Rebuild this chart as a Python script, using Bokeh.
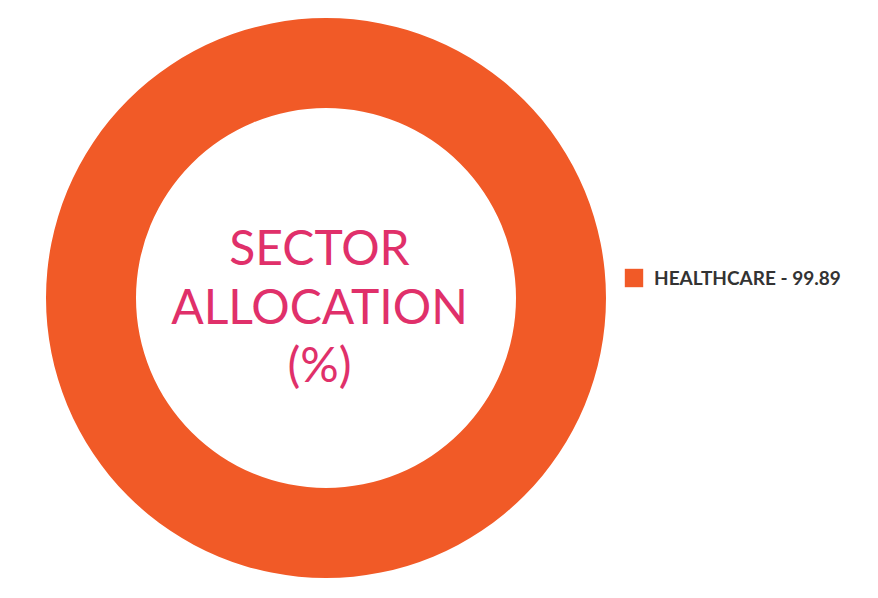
import numpy as np
from bokeh.plotting import figure
from bokeh.models import Range1d, ColumnDataSource, Legend, LegendItem
from bokeh.core.properties import value
from bokeh.embed import file_html
from bokeh.resources import INLINE

# Data
sectors = ["HEALTHCARE"]
weights = [99.89]
colors = ["#F15A27"]
center_lines = ["SECTOR", "ALLOCATION", "(%)"]

W, H = 862, 582
p = figure(width=W, height=H, output_backend="svg", toolbar_location=None,
           x_range=Range1d(0, W), y_range=Range1d(H, 0), min_border=0)
p.axis.visible = False
p.grid.visible = False
p.outline_line_color = None
p.background_fill_color = "white"
p.border_fill_color = "white"

vals = np.array(weights, dtype=float)
frac = vals / vals.sum()
ends = np.cumsum(frac) * 2 * np.pi
starts = ends - frac * 2 * np.pi
labels = [f"{s} - {w:.2f}" for s, w in zip(sectors, weights)]
src = ColumnDataSource(dict(start=starts - np.pi / 2, end=ends - np.pi / 2,
                            color=colors, label=labels))

cx, cy = 325.5, 297.5
r = p.annular_wedge(x=cx, y=cy, inner_radius=190, outer_radius=280,
                    start_angle="start", end_angle="end", direction="clock",
                    fill_color="color", line_color=None, source=src)

ys = [246, 305, 363]
for txt, yy in zip(center_lines, ys):
    p.text(x=[319], y=[yy], text=[txt], text_align="center", text_baseline="alphabetic",
           text_font=value("Lato"), text_font_size="48px", text_color="#E0306A")

legend = Legend(items=[LegendItem(label=labels[i], renderers=[r], index=i) for i in range(len(labels))],
                location=(622, 293), orientation="vertical",
                glyph_width=23, glyph_height=23, label_standoff=9,
                label_text_font="Lato", label_text_font_style="bold",
                label_text_font_size="19px", label_text_color="#333333",
                padding=0, margin=0, border_line_color=None, background_fill_alpha=0)
p.add_layout(legend, "center")

open("out.html", "w").write(file_html(p, INLINE))
